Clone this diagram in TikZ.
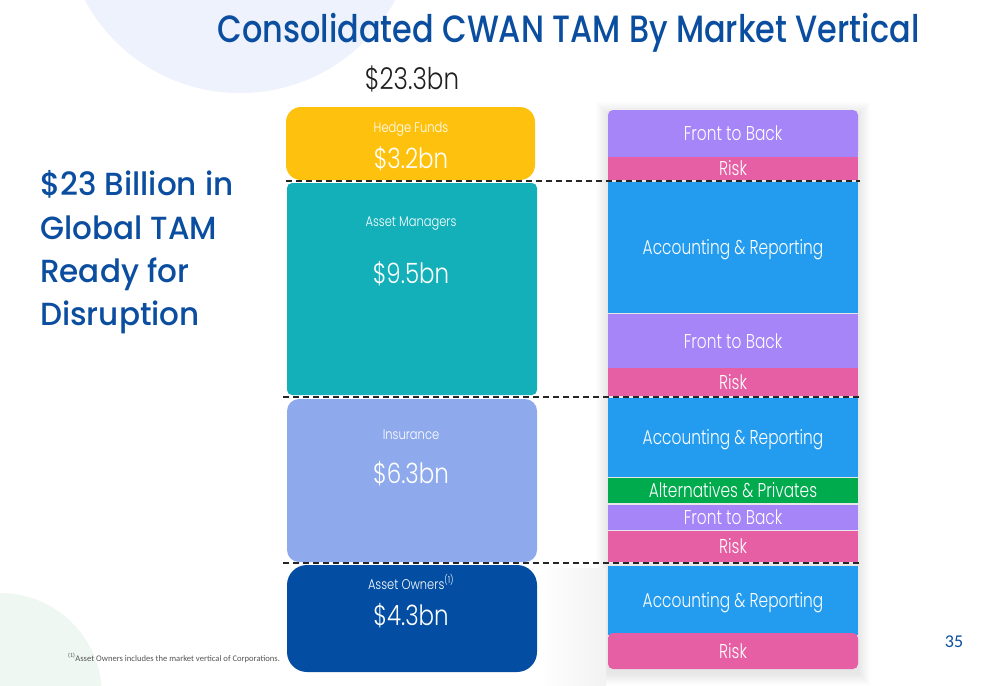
\documentclass[tikz,border=0pt]{standalone}
\usepackage{fontspec}
\IfFontExistsTF{Poppins Light}{\newfontfamily\lightf{Poppins Light}[FakeStretch=0.82]}{\newfontfamily\lightf{Poppins}[FakeStretch=0.82]}
\IfFontExistsTF{Poppins Light}{\newfontfamily\lightr{Poppins Light}[FakeStretch=0.77]}{\newfontfamily\lightr{Poppins}[FakeStretch=0.77]}
\IfFontExistsTF{Poppins Medium}{\newfontfamily\titlef{Poppins Medium}[FakeStretch=0.84]}{\newfontfamily\titlef{Poppins}[FakeStretch=0.84]}
\IfFontExistsTF{Poppins Medium}{\newfontfamily\headf{Poppins Medium}[FakeStretch=0.97]}{\newfontfamily\headf{Poppins}[FakeStretch=0.97]}
\newfontfamily\notef{Carlito}
\definecolor{cTitle}{RGB}{11,78,160}
\definecolor{cYellow}{RGB}{254,194,14}
\definecolor{cTeal}{RGB}{19,176,186}
\definecolor{cIns}{RGB}{143,170,236}
\definecolor{cOwn}{RGB}{3,78,162}
\definecolor{cPurple}{RGB}{166,133,248}
\definecolor{cPink}{RGB}{230,95,164}
\definecolor{cBlue}{RGB}{35,156,240}
\definecolor{cGreen}{RGB}{0,171,78}
\definecolor{cCircA}{RGB}{238,242,252}
\definecolor{cCircB}{RGB}{238,247,242}
\definecolor{cNote}{RGB}{85,85,85}
\tikzset{
  rbox/.style={rectangle, inner sep=0pt, outer sep=0pt, minimum width=250pt,
    text=white, text height=14pt, text depth=0pt,
    font=\lightr\fontsize{20}{24}\selectfont},
  lbox/.style={rectangle, inner sep=0pt, outer sep=0pt, minimum width=250pt},
  lsmall/.style={anchor=base, text=white, inner sep=0pt, font=\lightf\fontsize{14}{16}\selectfont},
  lbig/.style={anchor=base, text=white, inner sep=0pt, font=\lightf\fontsize{28}{32}\selectfont},
  headline/.style={anchor=base west, text=cTitle, inner sep=0pt, font=\headf\fontsize{32}{38}\selectfont},
  divider/.style={draw=black!85, line width=1.6pt, dash pattern=on 6pt off 4pt},
}
\begin{document}
\begin{tikzpicture}[x=1pt,y=-1pt]
\useasboundingbox (0,0) rectangle (1000,685);
\fill[white] (0,0) rectangle (1000,685);
% background circles
\fill[cCircA] (240,-83) circle[radius=176pt];
\fill[cCircB] (0,695) circle[radius=102pt];
% soft shadow behind right column
\foreach \i in {1,...,12}{
  \fill[black,opacity=0.006] (608-\i,110-\i+4) rectangle (858+\i,669+\i+4);
}
\shade[left color=white, right color=black!5] (540,568) rectangle (606,685);
% title texts
\node[anchor=base, text=cTitle, inner sep=0pt, font=\titlef\fontsize{38}{44}\selectfont] (title) at (568.5,42) {Consolidated CWAN TAM By Market Vertical};
\node[anchor=base, text=black!88, inner sep=0pt, font=\lightf\fontsize{30}{34}\selectfont] (total) at (412,89) {\$23.3bn};
\node[headline] (h1) at (40,195) {\$23 Billion in};
\node[headline] (h2) at (40,239) {Global TAM};
\node[headline] (h3) at (40,282) {Ready for};
\node[headline] (h4) at (40,325) {Disruption};
% left column
\node[lbox, fill=cYellow, minimum width=249pt, minimum height=73pt, rounded corners=15pt] (l1) at (410.5,143.5) {};
\node[lbox, fill=cTeal, minimum height=212pt, rounded corners=5pt] (l2) at (412,289) {};
\node[lbox, fill=cIns, minimum height=163pt, rounded corners=12pt] (l3) at (412,480.5) {};
\node[lbox, fill=cOwn, minimum height=107pt, rounded corners=20pt] (l4) at (412,618.5) {};
\node[lsmall] (t1a) at (411,132) {Hedge Funds};
\node[lbig] (t1b) at (411,168) {\$3.2bn};
\node[lsmall] (t2a) at (411,226) {Asset Managers};
\node[lbig] (t2b) at (411,283) {\$9.5bn};
\node[lsmall] (t3a) at (411,439) {Insurance};
\node[lbig] (t3b) at (411,483) {\$6.3bn};
\node[lsmall] (t4a) at (411,589) {Asset Owners\textsuperscript{(1)}};
\node[lbig] (t4b) at (411,625) {\$4.3bn};
% right column
\node[rbox, fill=cPurple, minimum height=47pt, rounded corners=5pt] (r1) at (733,133.5) {Front to Back};
\fill[cPurple] ([yshift=8pt]r1.south west) rectangle (r1.south east);
\node[rbox, fill=cPink, minimum height=23pt] (r2) at (733,168.5) {Risk};
\node[rbox, fill=cBlue, minimum height=131pt] (r3) at (733,247.5) {Accounting \& Reporting};
\node[rbox, fill=cPurple, minimum height=54pt] (r4) at (733,341) {Front to Back};
\node[rbox, fill=cPink, minimum height=28pt] (r5) at (733,382) {Risk};
\node[rbox, fill=cBlue, minimum height=79pt] (r6) at (733,437.5) {Accounting \& Reporting};
\node[rbox, fill=cGreen, minimum height=25pt, text height=13pt] (r7) at (733,490.5) {Alternatives \& Privates};
\node[rbox, fill=cPurple, minimum height=25pt] (r8) at (733,517.5) {Front to Back};
\node[rbox, fill=cPink, minimum height=31pt] (r9) at (733,546.5) {Risk};
\node[rbox, fill=cBlue, minimum height=69pt] (r10) at (733,600.5) {Accounting \& Reporting};
\node[rbox, fill=cPink, minimum height=36pt, rounded corners=5pt] (r11) at (733,651) {Risk};
% dividers
\coordinate (d1a) at (286,181); \coordinate (d1b) at (860,181);
\coordinate (d2a) at (283,397); \coordinate (d2b) at (862,397);
\coordinate (d3a) at (283,563); \coordinate (d3b) at (862,563);
\draw[divider] (d1a) -- (d1b);
\draw[divider] (d2a) -- (d2b);
\draw[divider] (d3a) -- (d3b);
% footnote and page number
\node[anchor=base west, inner sep=0pt, text=cNote, font=\notef\fontsize{8.6}{10}\selectfont] (note) at (68,661) {\textsuperscript{(1)}Asset Owners includes the market vertical of Corporations.};
\node[anchor=base, inner sep=0pt, text=cTitle, font=\notef\fontsize{18}{20}\selectfont] (page) at (954,647) {35};
\end{tikzpicture}
\end{document}
